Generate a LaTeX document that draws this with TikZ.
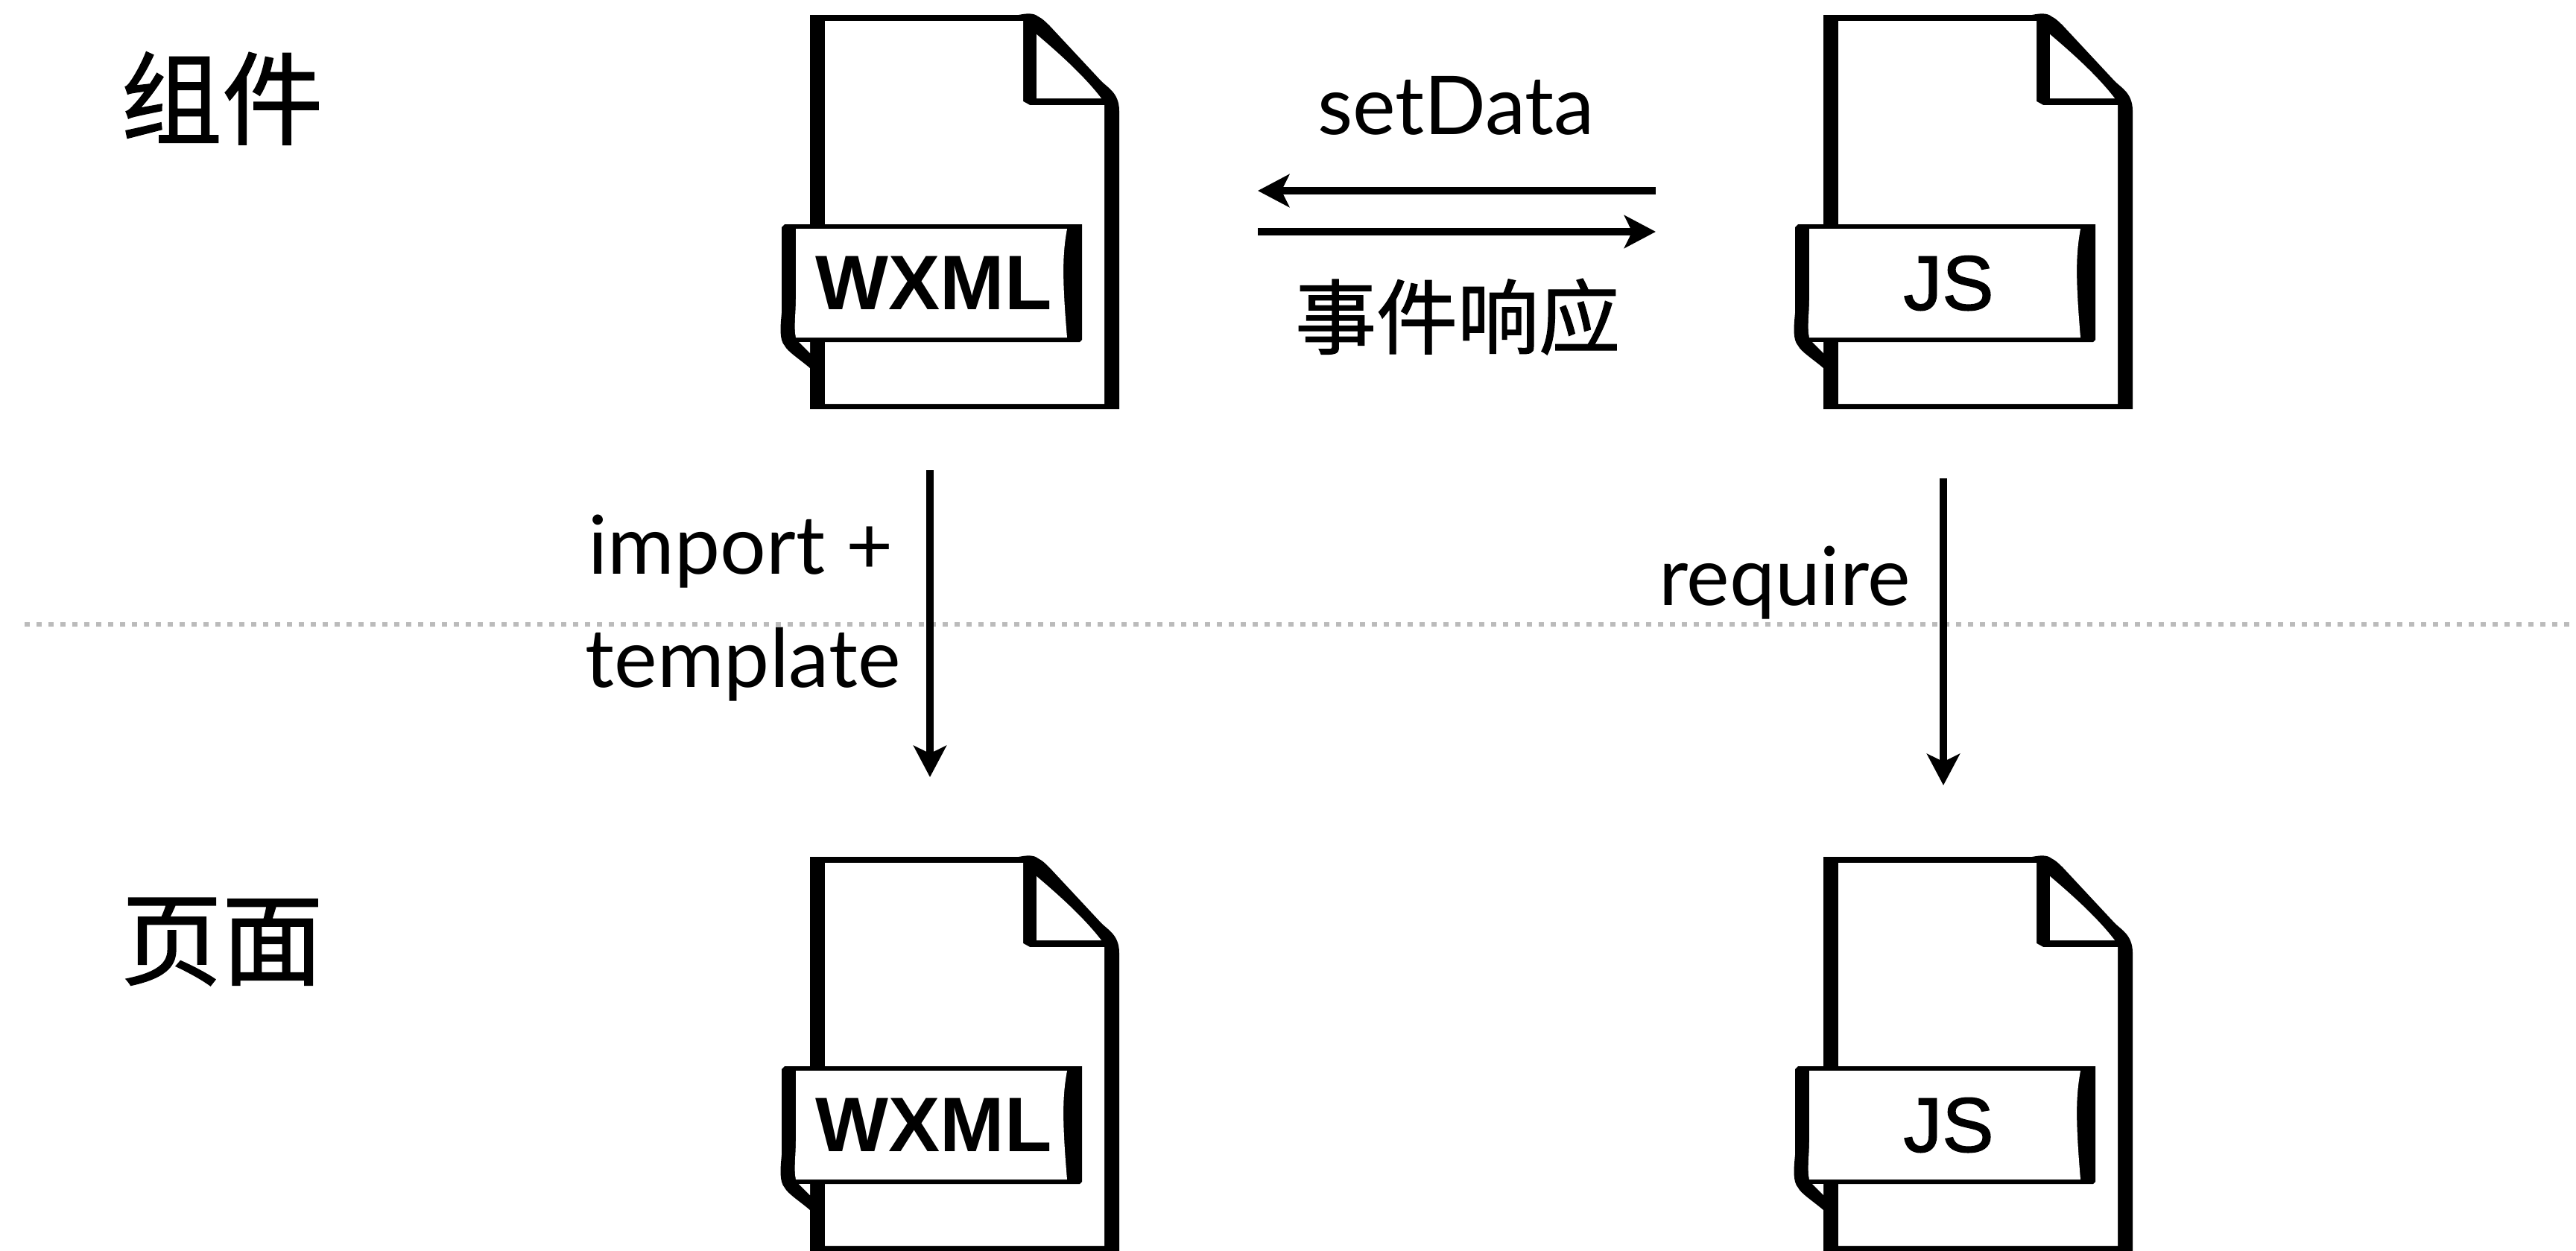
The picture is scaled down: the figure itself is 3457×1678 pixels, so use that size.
\documentclass[tikz,border=0pt]{standalone}
\usepackage{fontspec}
\usepackage{xcolor}
\usetikzlibrary{arrows.meta, positioning}
\setmainfont{Lato}
\newfontfamily\cjk[FakeBold=1.2]{Noto Sans CJK SC}
\newfontfamily\filefont{Liberation Sans}
\newfontfamily\jsfont[FakeBold=1.5]{Liberation Sans}
\definecolor{mygray}{RGB}{187, 187, 187}

\tikzset{
    heading/.style={font=\cjk\fontsize{38.5}{46}\selectfont, inner sep=0pt},
    cjklabel/.style={font=\cjk\fontsize{31}{37}\selectfont, inner sep=0pt},
    textlabel/.style={font=\fontsize{31}{37}\selectfont, inner sep=0pt},
    filelabel/.style={font=\fontsize{29.5}{36}\selectfont, inner sep=0pt},
    flow/.style={line width=3pt, -{Stealth[length=12pt, width=12.5pt, inset=3pt]}},
    pics/fileicon/.style 2 args={code={
        % 外轮廓
        \fill[black] (0,0) -- (280,0) .. controls (290,-2) and (300,-3) .. (306,2)
            .. controls (312,5) and (316,9) .. (322,15)
            -- (391,89) .. controls (400,98) and (415,105) .. (415,129)
            -- (415,529) -- (0,529) -- (0,474)
            .. controls (-14,462) and (-30,452) .. (-34,444)
            .. controls (-41,436) and (-40,420) .. (-38,400)
            -- (-38,285) -- (-34,281) -- (0,281) -- cycle;
        % 页面与折角
        \fill[white] (20,8) -- (286,8) -- (286,116) -- (295,121) -- (395,121) -- (395,522) -- (20,522) -- cycle;
        \fill[white] (304,26) .. controls (325,44) and (365,78) .. (391,112) -- (304,112) -- cycle;
        % 标签条
        \fill[black] (-34,281) -- (365,281) -- (365,436) -- (362,439) -- (-30,439) -- cycle;
        \fill[white] (-19,287) -- (345,287) .. controls (339,320) and (338,350) .. (345,433)
            -- (-19,433) .. controls (-22,420) and (-19,400) .. (-19,380) -- cycle;
        \fill[white] (-15,439) -- (0,439) -- (0,454) -- cycle;
        \node[filelabel] (-label) at (#2,360) {#1};
    }},
    x=0.01cm, y=-0.01cm
}

\begin{document}
\begin{tikzpicture}
    \useasboundingbox (0,0) rectangle (3457,1678);
    \clip (0,0) rectangle (3457,1678);

    % 分隔线
    \coordinate (dividerL) at (33,838);
    \coordinate (dividerR) at (3457,838);
    \draw[mygray, line width=1.7pt, dash pattern=on 2pt off 2.55pt] (dividerL) -- (dividerR);

    % 文件图标
    \pic (wxmlTop) at (1087,20) {fileicon={\filefont\bfseries WXML}{166}};
    \pic (jsTop) at (2447,20) {fileicon={\jsfont JS}{168}};
    \pic (wxmlPage) at (1087,1150) {fileicon={\filefont\bfseries WXML}{166}};
    \pic (jsPage) at (2447,1150) {fileicon={\jsfont JS}{168}};

    % 标题
    \node[heading] (headTop) at (298,132) {组件};
    \node[heading] (headPage) at (298,1264) {页面};

    % 箭头端点
    \coordinate (dataFrom) at (2222,256);
    \coordinate (dataTo) at (1688,256);
    \coordinate (eventFrom) at (1688,311);
    \coordinate (eventTo) at (2222,311);
    \coordinate (wxmlFrom) at (1248,631);
    \coordinate (wxmlTo) at (1248,1043);
    \coordinate (jsFrom) at (2608,642);
    \coordinate (jsTo) at (2608,1054);

    \draw[flow] (dataFrom) -- (dataTo);
    \draw[flow] (eventFrom) -- (eventTo);
    \draw[flow] (wxmlFrom) -- (wxmlTo);
    \draw[flow] (jsFrom) -- (jsTo);

    % 标注
    \node[textlabel] (setData) at (1954,142) {setData};
    \node[cjklabel] (eventText) at (1956,425) {事件响应};
    \node[textlabel] (importText) at (994,740) {import +};
    \node[textlabel] (templateText) at (997,892) {template};
    \node[textlabel] (requireText) at (2395,782) {require};
\end{tikzpicture}
\end{document}
